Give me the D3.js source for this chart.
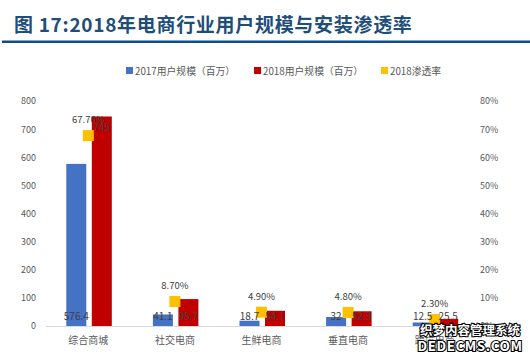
<!DOCTYPE html>
<html><head><meta charset="utf-8">
<script src="https://cdn.jsdelivr.net/npm/d3@7"></script>
<style>body{margin:0;background:#fff}svg{display:block}text{font-family:"Noto Sans CJK SC","Liberation Sans",sans-serif}</style>
</head><body>
<script>
const categories = ["综合商城","社交电商","生鲜电商","垂直电商","跨境电商"];
const users2017 = [576.4, 41.1, 18.7, 32, 12.5];
const users2018 = [745, 95.7, 54.1, 52.3, 25.5];
const rate2018 = [0.677, 0.087, 0.049, 0.048, 0.023];
const rateLabels = ["67.70%","8.70%","4.90%","4.80%","2.30%"];
const leftTicks = [0,100,200,300,400,500,600,700,800];
const rightTicks = [0,0.1,0.2,0.3,0.4,0.5,0.6,0.7,0.8];
const seriesNames = ["2017用户规模（百万）","2018用户规模（百万）","2018渗透率"];
const colors = ["#4472C4","#C00000","#FFC000"];

const W=530,H=357;
const svg=d3.select("body").append("svg").attr("width",W).attr("height",H);

// title
svg.append("text").attr("x",14).attr("y",32).attr("font-size",19).attr("font-weight","bold").attr("letter-spacing",0.7)
  .attr("fill","#1F4E79").text("图 17:2018年电商行业用户规模与安装渗透率");
svg.append("rect").attr("x",2).attr("y",40.5).attr("width",528).attr("height",2.5).attr("fill","#0F4C8A");

const x=d3.scaleBand().domain(categories).range([45,478]);
const y=d3.scaleLinear().domain([0,800]).range([326,101]);
const y2=d3.scaleLinear().domain([0,0.8]).range([326,101]);

// legend
const legX=[126,254,381];
seriesNames.forEach((n,i)=>{
  svg.append("rect").attr("x",legX[i]).attr("y",67).attr("width",7).attr("height",7).attr("fill",colors[i]);
  svg.append("text").attr("x",legX[i]+9).attr("y",74.5).attr("font-size",9.8).attr("fill","#595959").text(n);
});

// left axis
const la=svg.append("g").attr("transform","translate(36,0)")
  .call(d3.axisLeft(y).tickValues(leftTicks).tickSize(0).tickPadding(0));
la.select(".domain").remove();
la.selectAll("text").attr("font-size",9).attr("fill","#595959").attr("font-family","Liberation Sans, sans-serif");

// right axis
const ra=svg.append("g").attr("transform","translate(480,0)")
  .call(d3.axisRight(y2).tickValues(rightTicks).tickFormat(d3.format(".0%")).tickSize(0).tickPadding(0));
ra.select(".domain").remove();
ra.selectAll("text").attr("font-size",9).attr("fill","#595959").attr("font-family","Liberation Sans, sans-serif");

// baseline
svg.append("line").attr("x1",46).attr("x2",500).attr("y1",326.5).attr("y2",326.5).attr("stroke","#D9D9D9").attr("stroke-width",1);

const bw=20, off=12;
const g=svg.append("g");
categories.forEach((c,i)=>{
  const cx=x(c)+x.bandwidth()/2;
  g.append("rect").attr("x",cx-off-bw/2).attr("y",y(users2017[i])).attr("width",bw).attr("height",y(0)-y(users2017[i])).attr("fill",colors[0]);
  g.append("rect").attr("x",cx+off-bw/2+1.5).attr("y",y(users2018[i])).attr("width",bw).attr("height",y(0)-y(users2018[i])).attr("fill",colors[1]);
});
categories.forEach((c,i)=>{
  const cx=x(c)+x.bandwidth()/2;
  const ry=y2(rate2018[i]);
  g.append("rect").attr("x",cx-5.5).attr("y",ry-5.5).attr("width",11).attr("height",11).attr("fill",colors[2]);
  g.append("text").attr("x",cx).attr("y",ry-16+3.5).attr("text-anchor","middle").attr("font-size",9.5).attr("fill","#404040").attr("font-family","Liberation Sans, sans-serif").text(rateLabels[i]);
  g.append("text").attr("x",cx-off).attr("y",320).attr("text-anchor","middle").attr("font-size",10).attr("fill","#404040").attr("font-family","Liberation Sans, sans-serif").text(users2017[i]);
  const top=y(users2018[i]);
  const ly=(y(0)-top>100)?top+15:320;
  g.append("text").attr("x",cx+off+1.5).attr("y",ly).attr("text-anchor","middle").attr("font-size",10).attr("fill","#404040").attr("font-family","Liberation Sans, sans-serif").text(users2018[i]);
  g.append("text").attr("x",cx).attr("y",344).attr("text-anchor","middle").attr("font-size",10).attr("fill","#595959").text(c);
});

// watermark
svg.append("text").attr("x",470).attr("y",335).attr("text-anchor","middle").attr("font-size",12.5).attr("font-weight","bold")
  .attr("fill","#fff").attr("stroke","#000").attr("stroke-width",2.2).attr("paint-order","stroke").text("织梦内容管理系统");
svg.append("text").attr("x",470).attr("y",351).attr("text-anchor","middle").attr("font-size",13.5).attr("font-weight","bold").attr("letter-spacing",0.5)
  .attr("fill","#fff").attr("stroke","#000").attr("stroke-width",2.2).attr("paint-order","stroke").attr("font-family","DejaVu Sans Mono, monospace").text("DEDECMS.COM");
</script>
</body></html>
